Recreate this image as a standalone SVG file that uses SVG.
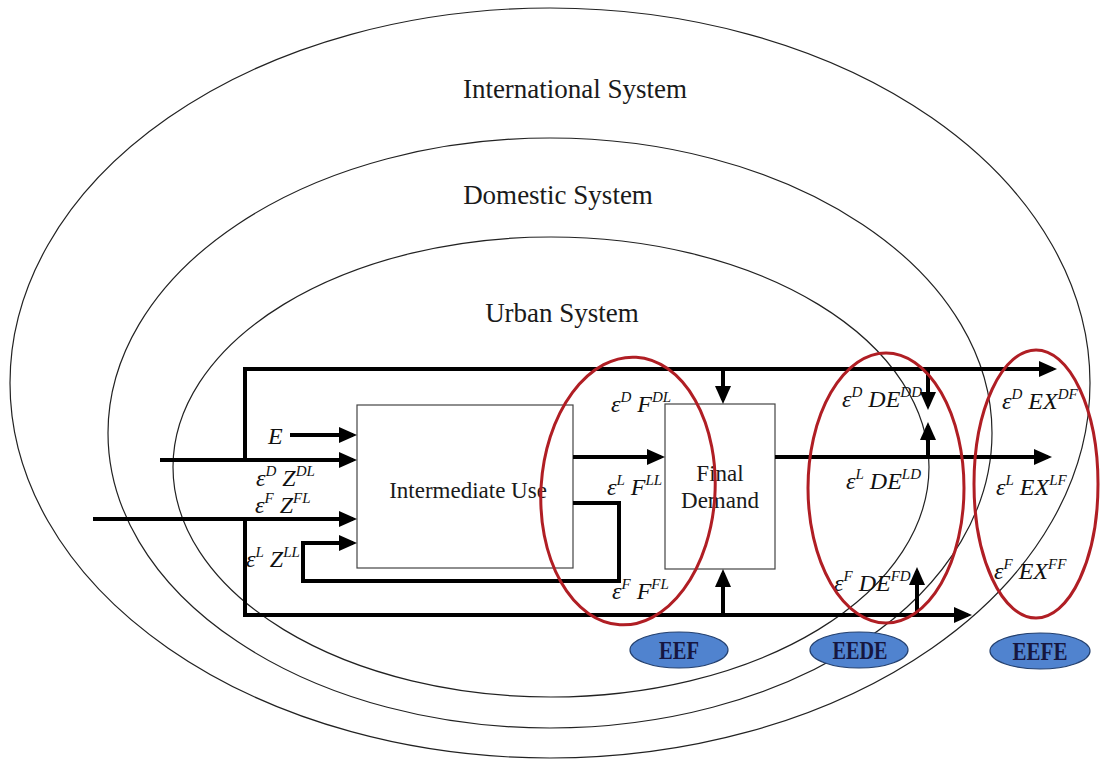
<svg xmlns="http://www.w3.org/2000/svg" width="1100" height="763" viewBox="0 0 1100 763">
<style>
.sys{fill:none;stroke:#222;stroke-width:1.2}
.ttl{font-family:"Liberation Serif","Times New Roman","DejaVu Serif",serif;font-size:27px;fill:#1a1a1a;text-anchor:middle}
.box{fill:#fff;stroke:#444;stroke-width:1.2}
.btxt{font-family:"Liberation Serif","Times New Roman","DejaVu Serif",serif;font-size:23px;fill:#1a1a1a;text-anchor:middle}
.flow{fill:none;stroke:#000;stroke-width:4;marker-end:url(#ah)}
.m{font-family:"Liberation Serif","Times New Roman","DejaVu Serif",serif;font-style:italic;font-size:24px;fill:#111}
.s{font-size:15px}
.red{fill:none;stroke:#b01e24;stroke-width:3}
.blue{fill:#5083cf;stroke:#24406e;stroke-width:1.2}
.btag{font-family:"Liberation Serif","Times New Roman","DejaVu Serif",serif;font-weight:bold;font-size:26px;fill:#16163f;text-anchor:middle}
</style>
<defs>
<marker id="ah" markerUnits="userSpaceOnUse" markerWidth="18" markerHeight="16" refX="14" refY="8" orient="auto">
<path d="M0,0 L18,8 L0,16 z" fill="#000"/>
</marker>
</defs>

<g id="systems">
<ellipse id="international" class="sys" cx="550" cy="383" rx="540" ry="375"/>
<ellipse id="domestic" class="sys" cx="550" cy="433" rx="442" ry="295"/>
<ellipse id="urban" class="sys" cx="551" cy="467" rx="378" ry="230"/>
<text class="ttl" x="575" y="98">International System</text>
<text class="ttl" x="558" y="204">Domestic System</text>
<text class="ttl" x="562" y="322">Urban System</text>
</g>

<g id="intermediate-use">
<rect class="box" x="357" y="405" width="216" height="163"/>
<text class="btxt" x="468" y="498">Intermediate Use</text>
</g>

<g id="final-demand">
<rect class="box" x="665" y="404" width="110" height="165"/>
<text class="btxt" x="720" y="481">Final</text>
<text class="btxt" x="720" y="508">Demand</text>
</g>

<g id="connectors">
<path class="flow" d="M245,460 V369 H1053"/>
<path class="flow" d="M245,519 V615 H968"/>
<path class="flow" d="M160,460 H353"/>
<path class="flow" d="M93,519 H353"/>
<path class="flow" d="M290,435 H353"/>
<path class="flow" d="M573,503 H619 V581 H303 V543 H353"/>
<path class="flow" d="M573,457 H661"/>
<path class="flow" d="M723,369 V400"/>
<path class="flow" d="M723,615 V573"/>
<path class="flow" d="M775,457 H1048"/>
<path class="flow" d="M928,369 V406"/>
<path class="flow" d="M928,457 V426"/>
<path class="flow" d="M917,615 V571"/>
</g>

<g id="labels">
<text class="m" x="268" y="444">E</text>
<text class="m" x="256" y="486">ε<tspan class="s" dy="-10">D</tspan><tspan dy="10"> Z</tspan><tspan class="s" dy="-10">DL</tspan></text>
<text class="m" x="255" y="513">ε<tspan class="s" dy="-10">F</tspan><tspan dy="10"> Z</tspan><tspan class="s" dy="-10">FL</tspan></text>
<text class="m" x="246" y="567">ε<tspan class="s" dy="-10">L</tspan><tspan dy="10"> Z</tspan><tspan class="s" dy="-10">LL</tspan></text>
<text class="m" x="611" y="412">ε<tspan class="s" dy="-10">D</tspan><tspan dy="10"> F</tspan><tspan class="s" dy="-10">DL</tspan></text>
<text class="m" x="607" y="495">ε<tspan class="s" dy="-10">L</tspan><tspan dy="10"> F</tspan><tspan class="s" dy="-10">LL</tspan></text>
<text class="m" x="612" y="599">ε<tspan class="s" dy="-10">F</tspan><tspan dy="10"> F</tspan><tspan class="s" dy="-10">FL</tspan></text>
<text class="m" x="842" y="407">ε<tspan class="s" dy="-10">D</tspan><tspan dy="10"> DE</tspan><tspan class="s" dy="-10">DD</tspan></text>
<text class="m" x="846" y="489">ε<tspan class="s" dy="-10">L</tspan><tspan dy="10"> DE</tspan><tspan class="s" dy="-10">LD</tspan></text>
<text class="m" x="834" y="591">ε<tspan class="s" dy="-10">F</tspan><tspan dy="10"> DE</tspan><tspan class="s" dy="-10">FD</tspan></text>
<text class="m" x="1002" y="409">ε<tspan class="s" dy="-10">D</tspan><tspan dy="10"> EX</tspan><tspan class="s" dy="-10">DF</tspan></text>
<text class="m" x="996" y="495">ε<tspan class="s" dy="-10">L</tspan><tspan dy="10"> EX</tspan><tspan class="s" dy="-10">LF</tspan></text>
<text class="m" x="994" y="579">ε<tspan class="s" dy="-10">F</tspan><tspan dy="10"> EX</tspan><tspan class="s" dy="-10">FF</tspan></text>
</g>

<g id="eef">
<ellipse class="red" cx="628" cy="491" rx="87" ry="134" transform="rotate(3.5 628 491)"/>
<ellipse class="blue" cx="679" cy="650" rx="49" ry="18"/>
<text class="btag" x="679" y="659" textLength="40" lengthAdjust="spacingAndGlyphs">EEF</text>
</g>

<g id="eede">
<ellipse class="red" cx="886" cy="488" rx="78" ry="135"/>
<ellipse class="blue" cx="859" cy="650" rx="49" ry="18"/>
<text class="btag" x="860" y="659" textLength="55" lengthAdjust="spacingAndGlyphs">EEDE</text>
</g>

<g id="eefe">
<ellipse class="red" cx="1036" cy="484" rx="62" ry="134"/>
<ellipse class="blue" cx="1040" cy="651" rx="50" ry="18"/>
<text class="btag" x="1040" y="660" textLength="55" lengthAdjust="spacingAndGlyphs">EEFE</text>
</g>
</svg>
